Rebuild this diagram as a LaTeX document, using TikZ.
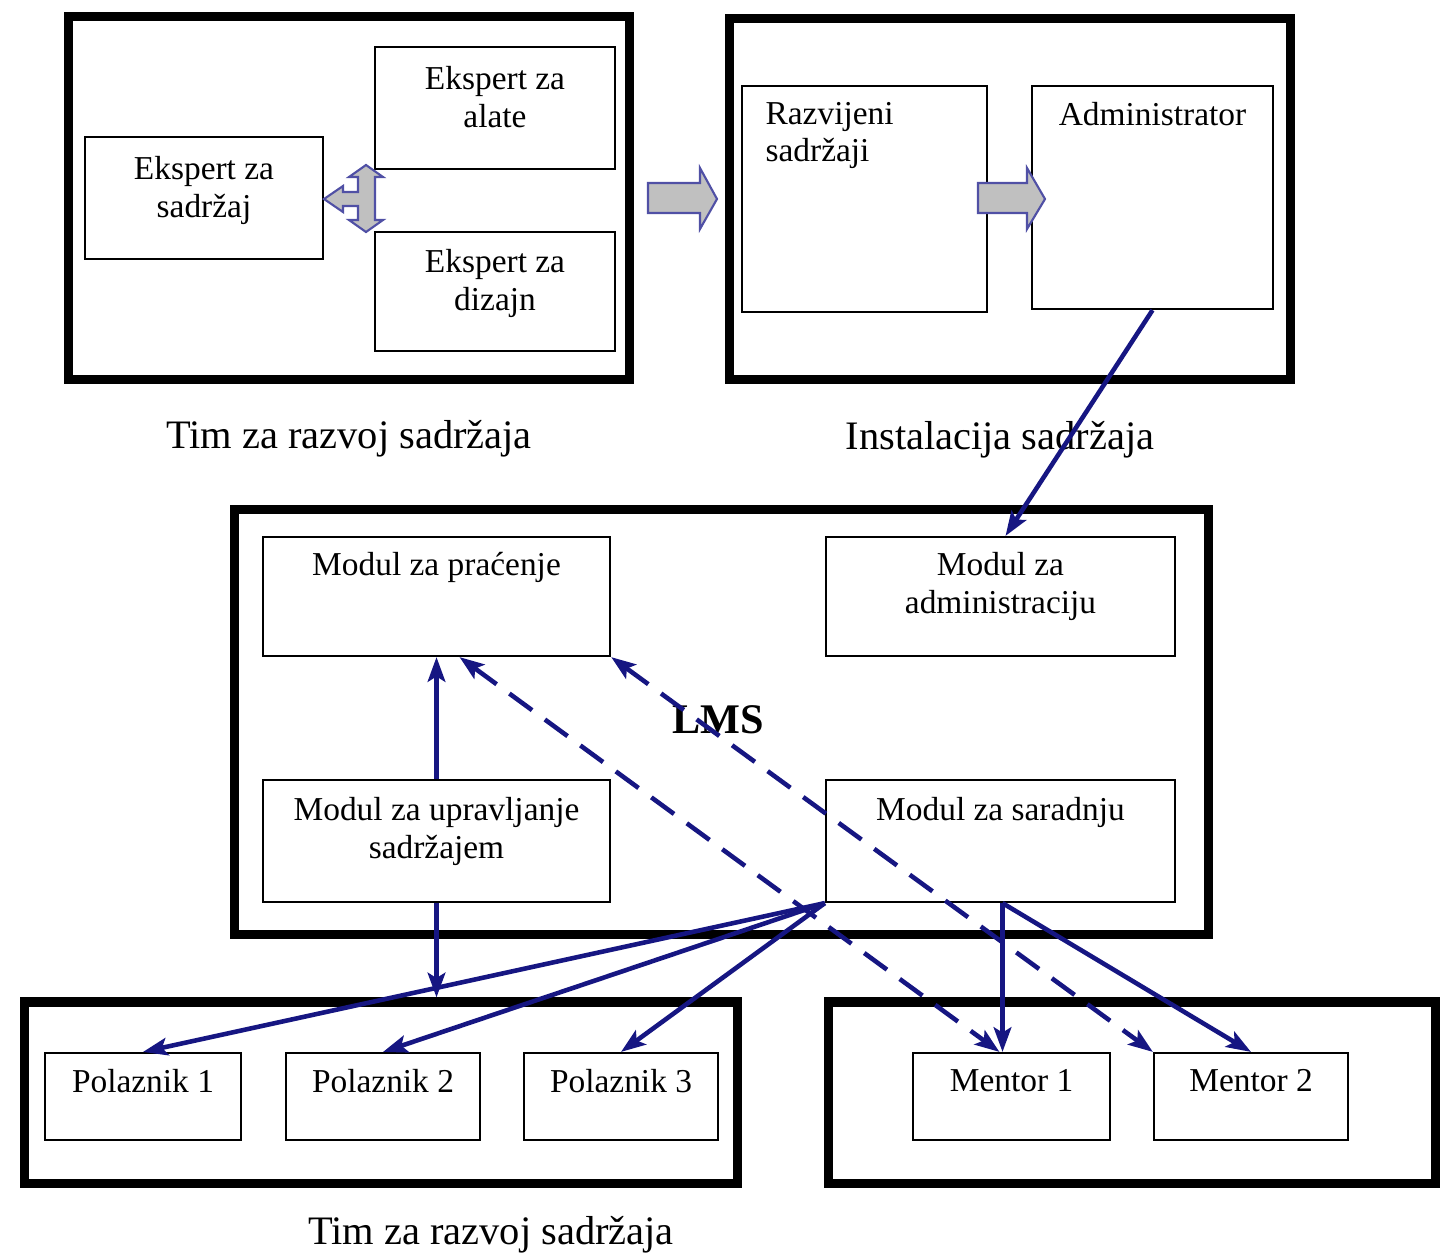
\documentclass[tikz,border=0pt]{standalone}
\usepackage{fontspec}
\setmainfont{Liberation Serif}
\usetikzlibrary{arrows.meta,positioning}
\definecolor{navy}{RGB}{22,22,130}
\definecolor{blockgray}{RGB}{192,192,192}
\definecolor{blockrim}{RGB}{80,80,165}

\begin{document}
\begin{tikzpicture}[x=0.01cm,y=-0.01cm,>={Stealth[length=7pt,width=5pt,inset=1.5pt]},
  frame/.style={draw,line width=2.6pt,inner sep=0pt},
  box/.style={draw,line width=0.6pt,inner sep=0pt},
  txt/.style={inner sep=0pt,align=center,font=\fontsize{9.5}{10.6}\selectfont},
  captxt/.style={inner sep=0pt,font=\fontsize{11.5}{13}\selectfont},
  link/.style={draw=navy,line width=1.3pt},
  dashlink/.style={link,dash pattern=on 8pt off 4.5pt},
  blockarrow/.style={fill=blockgray,draw=blockrim,line width=0.6pt}]
\useasboundingbox (0,0) rectangle (1446,1257);
% ================= top left: content team =================
\node[frame,minimum width=5.6cm,minimum height=3.62cm] (team) at (349,198) {};
\node[box,minimum width=2.38cm,minimum height=1.22cm] (sadr) at (204,198) {};
\node[box,minimum width=2.40cm,minimum height=1.22cm] (alate) at (495,108) {};
\node[box,minimum width=2.40cm,minimum height=1.19cm] (dizajn) at (495,291.5) {};
\node[txt,below=0.2cm] (tsadr) at (sadr.north) {Ekspert za\\sadržaj};
\node[txt,below=0.2cm] (talate) at (alate.north) {Ekspert za\\alate};
\node[txt,below=0.18cm] (tdizajn) at (dizajn.north) {Ekspert za\\dizajn};
\node[captxt,below=0.36cm of team] (capteam) {Tim za razvoj sadržaja};
% three-way block arrow
\draw[blockarrow] (324,199) -- (343,186) -- (343,192) -- (358,192) -- (358,177) -- (349,177)
  -- (366,165) -- (383,177) -- (375,177) -- (375,220) -- (383,220) -- (366,232) -- (349,220)
  -- (358,220) -- (358,206) -- (343,206) -- (343,212) -- cycle;
% ================= top right: installation =================
\node[frame,minimum width=5.61cm,minimum height=3.61cm] (inst) at (1010,199) {};
\node[box,minimum width=2.45cm,minimum height=2.26cm] (razv) at (864.5,199) {};
\node[box,minimum width=2.41cm,minimum height=2.23cm] (admin) at (1152.5,197.5) {};
\node[txt,align=left,anchor=north west] (trazv) at ([xshift=0.24cm,yshift=-0.17cm]razv.north west) {Razvijeni\\sadržaji};
\node[txt,below=0.17cm] (tadmin) at (admin.north) {Administrator};
\node[captxt,below=0.36cm of inst,xshift=-0.1cm] (capinst) {Instalacija sadržaja};
% block arrows
\draw[blockarrow] (648,183) -- (700,183) -- (700,168) -- (717,199) -- (700,229) -- (700,213) -- (648,213) -- cycle;
\draw[blockarrow] (978,183) -- (1027,183) -- (1027,168) -- (1045,199) -- (1027,229) -- (1027,213) -- (978,213) -- cycle;
% ================= LMS =================
\node[frame,minimum width=9.74cm,minimum height=4.245cm] (lms) at (721.5,722) {};
\node[box,minimum width=3.47cm,minimum height=1.19cm] (prac) at (436.5,596.5) {};
\node[box,minimum width=3.49cm,minimum height=1.19cm] (admod) at (1000.5,596.5) {};
\node[box,minimum width=3.47cm,minimum height=1.22cm] (uprav) at (436.5,841) {};
\node[box,minimum width=3.49cm,minimum height=1.22cm] (sarad) at (1000.5,841) {};
\node[txt,below=0.16cm] (tprac) at (prac.north) {Modul za praćenje};
\node[txt,below=0.16cm] (tadmod) at (admod.north) {Modul za\\administraciju};
\node[txt,below=0.18cm] (tuprav) at (uprav.north) {Modul za upravljanje\\sadržajem};
\node[txt,below=0.18cm] (tsarad) at (sarad.north) {Modul za saradnju};
\node[inner sep=0pt,font=\fontsize{12}{14}\selectfont\bfseries] (tlms) at (718,720) {LMS};
% ================= bottom: learners and mentors =================
\node[frame,minimum width=7.12cm,minimum height=1.81cm] (pol) at (381,1092.5) {};
\node[frame,minimum width=6.06cm,minimum height=1.81cm] (ment) at (1132,1092.5) {};
\node[box,minimum width=1.96cm,minimum height=0.87cm] (p1) at (143,1096.5) {};
\node[box,minimum width=1.94cm,minimum height=0.87cm] (p2) at (383,1096.5) {};
\node[box,minimum width=1.94cm,minimum height=0.87cm] (p3) at (621,1096.5) {};
\node[box,minimum width=1.97cm,minimum height=0.87cm] (m1) at (1011.5,1096.5) {};
\node[box,minimum width=1.94cm,minimum height=0.87cm] (m2) at (1251,1096.5) {};
\foreach \n/\t in {p1/Polaznik 1,p2/Polaznik 2,p3/Polaznik 3,m1/Mentor 1,m2/Mentor 2}
  \node[txt,below=0.17cm] (t\n) at (\n.north) {\t};
\node[captxt] (capbottom) at (491,1235) {Tim za razvoj sadržaja};
% ================= connectors =================
\draw[link,->] (admin.south) -- ([xshift=0.05cm]admod.north);
\draw[link,->] (uprav.north) -- (prac.south);
\draw[link,->] (uprav.south) -- (uprav.south |- pol.north);
\foreach \p in {p1,p2,p3}
  \draw[link,->] (sarad.south west) -- (\p.north);
\draw[link,->] ([xshift=0.02cm]sarad.south) -- ([xshift=0.02cm]sarad.south |- m1.north);
\draw[link,->] ([xshift=0.02cm]sarad.south) -- (m2.north);
\draw[dashlink,<->] ([xshift=0.23cm]prac.south) -- ([xshift=-0.12cm]m1.north);
\draw[dashlink,<->] (prac.south east) -- (m2.north west);
\end{tikzpicture}
\end{document}
